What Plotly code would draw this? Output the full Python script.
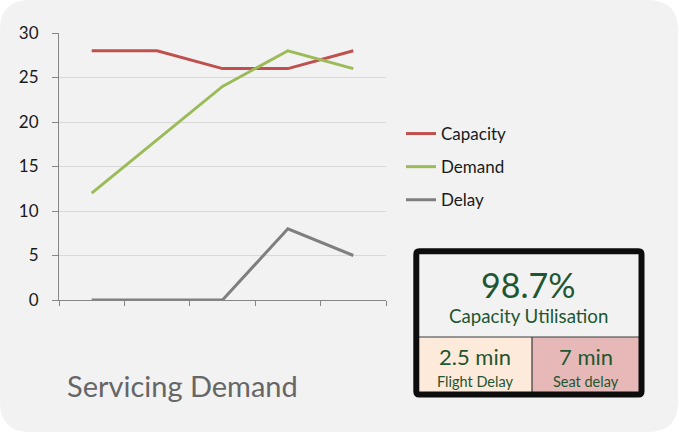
import plotly.graph_objects as go

# chart data
periods = [1, 2, 3, 4, 5]
capacity = [28, 28, 26, 26, 28]
demand = [12, 18, 24, 28, 26]
delay = [0, 0, 0, 8, 5]

kpi_value = "98.7%"
kpi_label = "Capacity Utilisation"
flight_delay = "2.5 min"
seat_delay = "7 min"

W, H = 679, 433
FONT = "Lato"
GREEN_TXT = "#1e5631"


def px(x):
    return x / W


def py(y):
    return 1 - y / H


def rounded(x0, y0, x1, y1, r):
    # rounded rect path in paper coords, from pixel coords
    p = []
    p.append(f"M {px(x0 + r)} {py(y0)}")
    p.append(f"L {px(x1 - r)} {py(y0)}")
    p.append(f"Q {px(x1)} {py(y0)} {px(x1)} {py(y0 + r)}")
    p.append(f"L {px(x1)} {py(y1 - r)}")
    p.append(f"Q {px(x1)} {py(y1)} {px(x1 - r)} {py(y1)}")
    p.append(f"L {px(x0 + r)} {py(y1)}")
    p.append(f"Q {px(x0)} {py(y1)} {px(x0)} {py(y1 - r)}")
    p.append(f"L {px(x0)} {py(y0 + r)}")
    p.append(f"Q {px(x0)} {py(y0)} {px(x0 + r)} {py(y0)}")
    p.append("Z")
    return " ".join(p)


fig = go.Figure()

series = [("Capacity", capacity, "#c0504d"),
          ("Demand", demand, "#9bbb59"),
          ("Delay", delay, "#7f7f7f")]
for name, vals, col in series:
    fig.add_trace(go.Scatter(
        x=periods, y=vals, name=name, mode="lines",
        line=dict(color=col, width=3),
        legendgroup=name,
    ))

shapes = []
# background card
shapes.append(dict(type="path", path=rounded(0, 0, 678, 432, 30),
                   xref="paper", yref="paper", fillcolor="#f2f2f2",
                   line=dict(width=0), layer="below"))
# kpi box cells
shapes.append(dict(type="rect", xref="paper", yref="paper",
                   x0=px(418), x1=px(532), y0=py(392), y1=py(337),
                   fillcolor="#fdeada", line=dict(width=0)))
shapes.append(dict(type="rect", xref="paper", yref="paper",
                   x0=px(532), x1=px(640), y0=py(392), y1=py(337),
                   fillcolor="#e6b9b8", line=dict(width=0)))
shapes.append(dict(type="line", xref="paper", yref="paper",
                   x0=px(418), x1=px(640), y0=py(337), y1=py(337),
                   line=dict(color="#3a3a3a", width=1.2)))
shapes.append(dict(type="line", xref="paper", yref="paper",
                   x0=px(532), x1=px(532), y0=py(337), y1=py(392),
                   line=dict(color="#3a3a3a", width=1.2)))
shapes.append(dict(type="path", path=rounded(416.3, 251.2, 641.5, 394.5, 3),
                   xref="paper", yref="paper",
                   line=dict(color="#0d0d0d", width=6)))

annots = [
    (528, 284, kpi_value, 34),
    (528, 316, kpi_label, 18.7),
    (475, 356, flight_delay, 22),
    (475, 381, "Flight Delay", 14.5),
    (586, 356, seat_delay, 22),
    (586, 381, "Seat delay", 14.5),
]
annotations = []
for x, y, t, s in annots:
    annotations.append(dict(x=px(x), y=py(y), xref="paper", yref="paper",
                            text=t, showarrow=False, xanchor="center",
                            yanchor="middle",
                            font=dict(family=FONT, size=s, color=GREEN_TXT)))
annotations.append(dict(x=px(65), y=py(385), xref="paper", yref="paper",
                        text="Servicing Demand", showarrow=False,
                        xanchor="left", yanchor="middle",
                        font=dict(family=FONT, size=29, color="#666666")))

fig.update_layout(
    width=W, height=H, autosize=False,
    margin=dict(l=0, r=0, t=0, b=0, pad=0, autoexpand=False),
    paper_bgcolor="white",
    plot_bgcolor="rgba(0,0,0,0)",
    font=dict(family=FONT, color="#1a1a1a"),
    shapes=shapes,
    annotations=annotations,
    showlegend=True,
    legend=dict(x=px(401), y=py(116), xanchor="left", yanchor="top",
                font=dict(family=FONT, size=17, color="#1a1a1a"),
                bgcolor="rgba(0,0,0,0)", tracegroupgap=8),
    xaxis=dict(domain=[px(59), px(386)], range=[0.5, 5.5],
               tickmode="array", tickvals=[0.5, 1.5, 2.5, 3.5, 4.5, 5.5],
               showticklabels=False, ticks="outside", ticklen=5,
               tickcolor="#868686", showline=True, linecolor="#868686",
               linewidth=1, showgrid=False, zeroline=False, fixedrange=True),
    yaxis=dict(domain=[py(300), py(33)], range=[0, 30], dtick=5,
               ticks="outside", ticklen=6, tickcolor="#868686",
               showline=True, linecolor="#868686", linewidth=1,
               gridcolor="#d9d9d9", gridwidth=1, zeroline=False,
               ticklabelstandoff=10,
               tickfont=dict(family=FONT, size=17, color="#1a1a1a"),
               fixedrange=True),
)

# the page body has a default margin; drop it so the card fills the window
fig.write_html("out.html",
               config={"displayModeBar": False, "responsive": False},
               post_script="document.body.style.margin='0';"
                           "document.body.style.padding='0';")
